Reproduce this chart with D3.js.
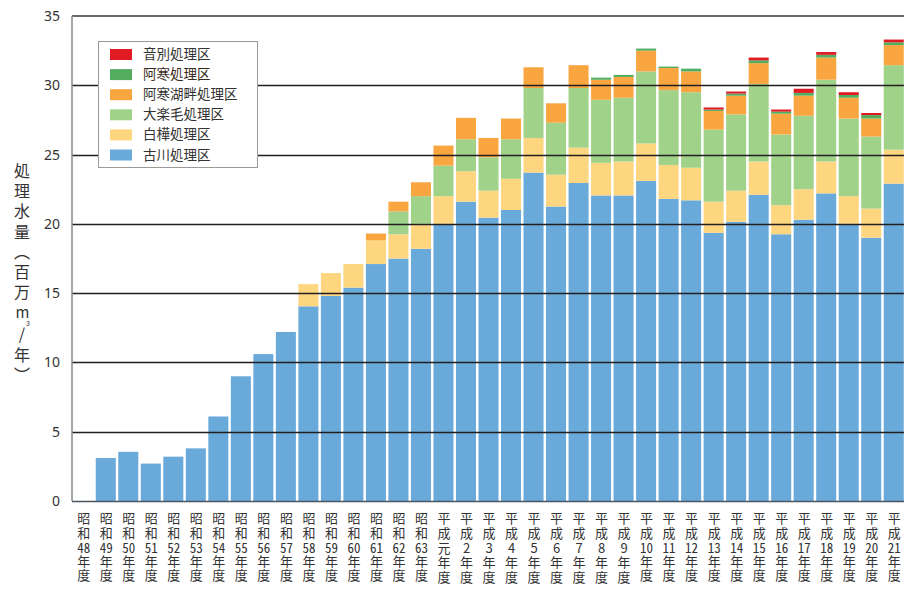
<!DOCTYPE html>
<html>
<head>
<meta charset="utf-8">
<script src="https://cdn.jsdelivr.net/npm/d3@7/dist/d3.min.js"></script>
<style>
  html, body { margin: 0; padding: 0; background: #fff; }
  #wrap { position: relative; width: 904px; height: 589px; overflow: hidden; }
  svg { display: block; position: absolute; left: 0; top: 0; font-family: "Noto Sans CJK JP", "Noto Sans", sans-serif; }
  .vlabel {
    position: absolute;
    writing-mode: vertical-rl;
    text-orientation: upright;
    font-family: "Noto Sans CJK JP", sans-serif;
    color: #333;
    white-space: nowrap;
  }
  .tcy { text-combine-upright: all; }
</style>
</head>
<body>
<div id="wrap">
<svg id="chart" width="904" height="589"></svg>
</div>
<script>
// 年度（カテゴリ）
const categories = [
  "昭和48年度","昭和49年度","昭和50年度","昭和51年度","昭和52年度","昭和53年度","昭和54年度","昭和55年度",
  "昭和56年度","昭和57年度","昭和58年度","昭和59年度","昭和60年度","昭和61年度","昭和62年度","昭和63年度",
  "平成元年度","平成2年度","平成3年度","平成4年度","平成5年度","平成6年度","平成7年度","平成8年度",
  "平成9年度","平成10年度","平成11年度","平成12年度","平成13年度","平成14年度","平成15年度","平成16年度",
  "平成17年度","平成18年度","平成19年度","平成20年度","平成21年度"
];

// 処理区別 処理水量（百万㎥/年）
const furukawa = [0, 3.1, 3.55, 2.7, 3.2, 3.8, 6.1, 9.0, 10.6, 12.2, 14.05, 14.8, 15.4, 17.1, 17.5, 18.2,
  20.0, 21.6, 20.45, 21.0, 23.7, 21.25, 22.95, 22.05, 22.05, 23.1, 21.8, 21.7, 19.35, 20.15, 22.1, 19.25,
  20.3, 22.2, 20.0, 19.0, 22.9];
const shirakaba = [0, 0, 0, 0, 0, 0, 0, 0, 0, 0, 1.6, 1.65, 1.7, 1.7, 1.75, 1.8,
  2.0, 2.2, 1.95, 2.25, 2.5, 2.3, 2.55, 2.35, 2.45, 2.7, 2.45, 2.35, 2.25, 2.25, 2.4, 2.1,
  2.2, 2.3, 2.0, 2.1, 2.45];
const otanoshike = [0, 0, 0, 0, 0, 0, 0, 0, 0, 0, 0, 0, 0, 0, 1.65, 2.0,
  2.2, 2.3, 2.4, 2.85, 3.6, 3.75, 4.3, 4.55, 4.6, 5.2, 5.4, 5.45, 5.2, 5.5, 5.6, 5.1,
  5.3, 5.9, 5.6, 5.2, 6.1];
const akanKohan = [0, 0, 0, 0, 0, 0, 0, 0, 0, 0, 0, 0, 0, 0.5, 0.7, 1.0,
  1.45, 1.55, 1.4, 1.5, 1.5, 1.4, 1.65, 1.45, 1.5, 1.5, 1.6, 1.5, 1.35, 1.35, 1.5, 1.5,
  1.45, 1.6, 1.5, 1.3, 1.45];
const akan = [0, 0, 0, 0, 0, 0, 0, 0, 0, 0, 0, 0, 0, 0, 0, 0,
  0, 0, 0, 0, 0, 0, 0, 0.15, 0.15, 0.15, 0.1, 0.2, 0.1, 0.15, 0.2, 0.15,
  0.2, 0.2, 0.2, 0.25, 0.2];
const onbetsu = [0, 0, 0, 0, 0, 0, 0, 0, 0, 0, 0, 0, 0, 0, 0, 0,
  0, 0, 0, 0, 0, 0, 0, 0, 0, 0, 0, 0, 0.15, 0.15, 0.2, 0.15,
  0.3, 0.2, 0.2, 0.15, 0.2];

const yTicks = [0, 5, 10, 15, 20, 25, 30, 35];

// 積み上げ順（下から）
const seriesNames = ["古川処理区", "白樺処理区", "大楽毛処理区", "阿寒湖畔処理区", "阿寒処理区", "音別処理区"];
const seriesValues = [furukawa, shirakaba, otanoshike, akanKohan, akan, onbetsu];
const seriesColors = ["#6aaadb", "#fed680", "#a0d28a", "#f9a640", "#52ad5f", "#e01b23"];

const wrap = d3.select("#wrap");
const svg = d3.select("#chart");
const plotLeft = 72, plotRight = 905, plotTop = 16, plotBottom = 501;

const x = d3.scaleBand().domain(categories).range([plotLeft, plotRight]).paddingInner(0.11).paddingOuter(0.055);
const y = d3.scaleLinear().domain([0, 35]).range([plotBottom, plotTop]);

const rows = categories.map((c, i) => {
  const r = { cat: c };
  seriesNames.forEach((s, k) => { r[s] = seriesValues[k][i]; });
  return r;
});
const stacked = d3.stack().keys(seriesNames)(rows);

// 棒
svg.append("g").selectAll("g")
  .data(stacked)
  .join("g")
  .attr("fill", (d, k) => seriesColors[k])
  .selectAll("rect")
  .data(d => d.filter(p => p[1] - p[0] > 0))
  .join("rect")
  .attr("x", p => x(p.data.cat))
  .attr("width", x.bandwidth())
  .attr("y", p => y(p[1]))
  .attr("height", p => y(p[0]) - y(p[1]));

// 目盛線（棒の上に描画）
svg.append("g").selectAll("line")
  .data(yTicks.filter(t => t > 0 && t < 35))
  .join("line")
  .attr("x1", plotLeft).attr("x2", 904)
  .attr("y1", t => Math.round(y(t)) + 0.5).attr("y2", t => Math.round(y(t)) + 0.5)
  .attr("stroke", "#231f20").attr("stroke-width", 1.6);

// 枠線
svg.append("line").attr("x1", plotLeft).attr("x2", 904).attr("y1", y(35)).attr("y2", y(35))
  .attr("stroke", "#6b6b6b").attr("stroke-width", 2);
svg.append("line").attr("x1", plotLeft).attr("x2", plotLeft).attr("y1", y(35)).attr("y2", y(0))
  .attr("stroke", "#8a8a8a").attr("stroke-width", 1.5);
svg.append("line").attr("x1", plotLeft).attr("x2", 904).attr("y1", y(0) + 0.5).attr("y2", y(0) + 0.5)
  .attr("stroke", "#4d5660").attr("stroke-width", 1.5);

// Y軸ラベル
const yAxis = d3.axisLeft(y).tickValues(yTicks).tickSize(0).tickPadding(0);
const gy = svg.append("g").attr("transform", `translate(${plotLeft - 12},0)`).call(yAxis);
gy.select(".domain").remove();
gy.selectAll("text")
  .attr("font-size", 14)
  .attr("font-family", "'Noto Sans', sans-serif")
  .attr("fill", "#333");

// X軸ラベル（縦書き）
categories.forEach(c => {
  const era = c.slice(0, 2);
  const num = c.slice(2, c.indexOf("年"));
  const cx = x(c) + x.bandwidth() / 2;
  const lab = wrap.append("div").attr("class", "vlabel")
    .style("font-size", "13px")
    .style("line-height", "14px")
    .style("letter-spacing", "1.6px")
    .style("left", (cx - 7) + "px")
    .style("top", "512px");
  lab.append("span").text(era);
  lab.append("span").attr("class", num.length > 1 ? "tcy" : null).text(num);
  lab.append("span").text("年度");
});

// Y軸タイトル（縦書き）
const yt = wrap.append("div").attr("class", "vlabel")
  .style("font-size", "16px")
  .style("line-height", "18px")
  .style("letter-spacing", "4.2px")
  .style("left", "13px")
  .style("top", "163px");
yt.append("span").text("処理水量（百万");
yt.append("span").attr("class", "tcy").style("font-size", "15px").html("m<sup style=\"font-size:7px\">3</sup>");
yt.append("span").text("/年）");

// 凡例
const legend = svg.append("g");
legend.append("rect").attr("x", 98.5).attr("y", 41.5).attr("width", 159).attr("height", 126)
  .attr("fill", "#fff").attr("stroke", "#9a9a9a").attr("stroke-width", 1);
const legendOrder = seriesNames.map((s, k) => k).reverse();
legendOrder.forEach((k, j) => {
  const ly = 54 + j * 20.1;
  legend.append("rect").attr("x", 110).attr("y", ly - 5).attr("width", 22).attr("height", 11)
    .attr("fill", seriesColors[k]);
  legend.append("text").attr("x", 143).attr("y", ly + 5).attr("font-size", 13.5)
    .attr("fill", k === 4 ? "#3a2a1a" : "#333").text(seriesNames[k]);
});
</script>
</body>
</html>
